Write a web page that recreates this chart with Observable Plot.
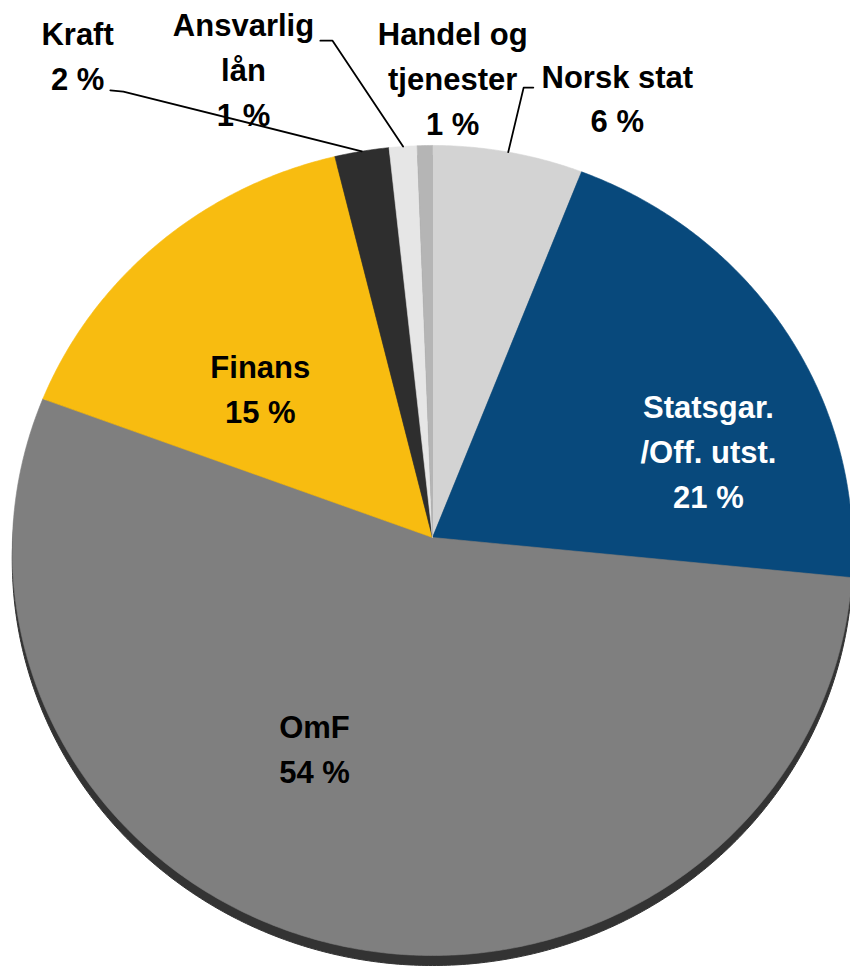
<!DOCTYPE html>
<html>
<head>
<meta charset="utf-8">
<script src="https://cdn.jsdelivr.net/npm/d3@7"></script>
<script src="https://cdn.jsdelivr.net/npm/@observablehq/plot@0.6"></script>
<style>
  html, body { margin: 0; padding: 0; background: #ffffff; }
  #chart svg { display: block; }
</style>
</head>
<body>
<div id="chart"></div>
<script>
// ---- data (clockwise from 12 o'clock) ----
const categories = ["Norsk stat", "Statsgar./Off. utst.", "OmF", "Finans", "Kraft", "Ansvarlig lån", "Handel og tjenester"];
const shares = [5.95, 20.6, 54.0, 15.5, 2.15, 1.1, 0.6];
const labelLines = [
  ["Norsk stat", "6 %"],
  ["Statsgar.", "/Off. utst.", "21 %"],
  ["OmF", "54 %"],
  ["Finans", "15 %"],
  ["Kraft", "2 %"],
  ["Ansvarlig", "lån", "1 %"],
  ["Handel og", "tjenester", "1 %"]
];

// ---- styles / layout ----
const sliceColors = ["#d3d3d3", "#08497c", "#7f7f7f", "#f8bc10", "#2e2e2e", "#e6e6e6", "#b5b5b5"];
const textColors = ["#000", "#fff", "#000", "#000", "#000", "#000", "#000"];
// label anchor (center x, baseline of last line) in unit pie space
const labelPos = [
  [0.44, -1.001],
  [0.657, -0.072],
  [-0.281, 0.606],
  [-0.41, -0.282],
  [-0.845, -1.105],
  [-0.45, -1.018],
  [0.048, -0.994]
];
// leader lines: elbow and end point in unit pie space (null = none)
const leaders = [
  [[0.217, -1.112], [0.240, -1.112]],
  null, null, null,
  [[-0.736, -1.102], [-0.767, -1.105]],
  [[-0.238, -1.228], [-0.267, -1.228]],
  null
];
const tilt = 0.0321; // slight perspective of the 3D pie

function proj(a, r = 1) {
  const u = Math.sin(a) * r, v = -Math.cos(a) * r;
  const s = 1 / (1 - tilt * v);
  return {x: u * s, y: v * s};
}

const pie = d3.pie().sort(null).startAngle(0).endAngle(2 * Math.PI)(shares);

function slicePoly(a0, a1) {
  const pts = [{x: 0, y: 0}];
  const n = Math.max(2, Math.ceil((a1 - a0) / (Math.PI / 360)));
  for (let i = 0; i <= n; i++) pts.push(proj(a0 + (a1 - a0) * i / n));
  pts.push({x: 0, y: 0});
  return pts;
}

const rim = d3.range(0, 721).map(i => proj(i / 720 * 2 * Math.PI));

const marks = [];
// 3D side (dark rim visible at the bottom)
marks.push(Plot.line(rim, {x: "x", y: "y", fill: "#333333", stroke: "#333333", strokeWidth: 1, dy: 10}));
// slices
pie.forEach((p, i) => {
  marks.push(Plot.line(slicePoly(p.startAngle, p.endAngle), {
    x: "x", y: "y", fill: sliceColors[i], stroke: sliceColors[i], strokeWidth: 0.6
  }));
});
// leader lines
pie.forEach((p, i) => {
  if (!leaders[i]) return;
  const m = proj((p.startAngle + p.endAngle) / 2);
  const pts = [m, {x: leaders[i][0][0], y: leaders[i][0][1]}, {x: leaders[i][1][0], y: leaders[i][1][1]}];
  marks.push(Plot.line(pts, {x: "x", y: "y", stroke: "#000", strokeWidth: 1.8}));
});
// labels
categories.forEach((c, i) => {
  marks.push(Plot.text([{x: labelPos[i][0], y: labelPos[i][1], t: labelLines[i].join("\n")}], {
    x: "x", y: "y", text: "t",
    fill: textColors[i],
    fontSize: 31, fontWeight: "bold", fontFamily: "Liberation Sans, Arial, sans-serif",
    lineAnchor: "bottom", lineHeight: 1.45, textAnchor: "middle"
  }));
});

const chart = Plot.plot({
  width: 850,
  height: 968,
  margin: 0,
  x: {domain: [-1, 1], range: [12, 852], axis: null},
  y: {domain: [-1, 1], range: [132.4, 941.6], axis: null},
  style: {background: "#ffffff"},
  marks
});
document.getElementById("chart").appendChild(chart);
</script>
</body>
</html>
